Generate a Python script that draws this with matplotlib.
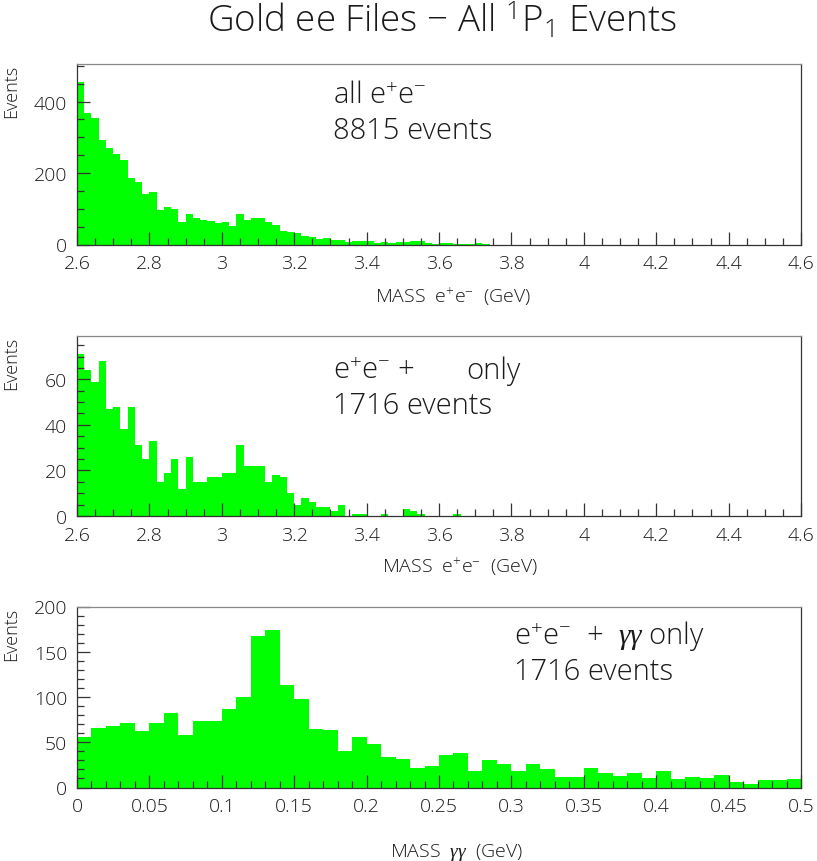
"""Gold ee files: e+e- and gamma-gamma mass histograms."""

import numpy as np
import matplotlib
matplotlib.use("Agg")
import matplotlib.pyplot as plt
from matplotlib.ticker import MultipleLocator, FormatStrFormatter

plt.rcParams["font.family"] = ["Open Sans", "DejaVu Sans"]
plt.rcParams["font.weight"] = "light"
plt.rcParams["mathtext.fontset"] = "custom"
plt.rcParams["mathtext.rm"] = "Open Sans:light"
plt.rcParams["mathtext.it"] = "Liberation Serif:italic"

GREEN = "#00ff00"
INK = "#333333"
LABEL = "#1a1a1a"

# all e+e-: 100 bins of 0.02 GeV from 2.6 to 4.6
ee_all_counts = [
    455, 367, 355, 293, 269, 254, 236, 186, 174, 141,
    146, 96, 105, 99, 63, 84, 73, 68, 67, 59,
    62, 52, 86, 69, 73, 74, 62, 55, 39, 34,
    31, 24, 20, 16, 19, 12, 12, 7, 10, 11,
    9, 3, 6, 5, 7, 8, 10, 9, 3, 2,
    4, 3, 2, 1, 1, 3, 1, 0, 0, 0,
] + [0] * 40

# e+e- + gamma only: 100 bins of 0.02 GeV
ee_sel_counts = [
    71, 64, 59, 68, 47, 48, 38, 48, 31, 25,
    33, 15, 19, 25, 12, 26, 15, 15, 17, 17,
    19, 19, 31, 22, 22, 22, 15, 18, 17, 10,
    5, 8, 6, 4, 4, 2, 5, 0, 1, 1,
    0, 0, 1, 0, 0, 3, 2, 1, 0, 0,
    0, 0, 1, 0, 0, 0, 0, 0, 0, 0,
] + [0] * 40

# gamma-gamma mass: 50 bins of 0.01 GeV from 0 to 0.5
gg_counts = [
    56, 66, 68, 71, 62, 71, 82, 58, 74, 73,
    87, 100, 167, 174, 113, 98, 65, 63, 40, 56,
    48, 34, 31, 22, 24, 36, 38, 18, 30, 26,
    18, 26, 20, 12, 12, 22, 16, 13, 16, 10,
    18, 9, 12, 10, 14, 6, 4, 8, 8, 9,
]

ee_edges = np.linspace(2.6, 4.6, len(ee_all_counts) + 1)
gg_edges = np.linspace(0.0, 0.5, len(gg_counts) + 1)

fig = plt.figure(figsize=(8.17, 8.62), dpi=100)

LEFT, WIDTH = 77 / 817, 724 / 817
panels = [
    (245.5, 180.5), (517.0, 180.0), (788.5, 181.0)
]


def make_axes(bottom_px, height_px):
    ax = fig.add_axes([LEFT, 1 - bottom_px / 862, WIDTH, height_px / 862])
    for side in ["left", "bottom", "right", "top"]:
        ax.spines[side].set_color(INK)
        ax.spines[side].set_linewidth(0.9)
    ax.spines["top"].set_color("#888888")
    ax.tick_params(which="both", direction="in", colors=INK, labelcolor=LABEL,
                   labelsize=14, top=False, right=False, width=0.9)
    ax.tick_params(which="major", length=9.5, pad=7)
    ax.tick_params(which="minor", length=4.8)
    return ax


def draw_hist(ax, edges, counts):
    ax.stairs(counts, edges, fill=True, color=GREEN, linewidth=0)


# panel 1
ax1 = make_axes(*panels[0])
draw_hist(ax1, ee_edges, ee_all_counts)
ax1.set_xlim(2.6, 4.6)
ax1.set_ylim(0, 505)
ax1.xaxis.set_major_locator(MultipleLocator(0.2))
ax1.xaxis.set_minor_locator(MultipleLocator(0.05))
ax1.yaxis.set_major_locator(MultipleLocator(200))
ax1.yaxis.set_minor_locator(MultipleLocator(50))
ax1.xaxis.set_major_formatter(FormatStrFormatter("%g"))
ax1.text(0.354, 0.788, "all e$^{+}$e$^{-}$", transform=ax1.transAxes, fontsize=21, color=LABEL)
ax1.text(0.354, 0.590, "8815 events", transform=ax1.transAxes, fontsize=21, color=LABEL)

# panel 2
ax2 = make_axes(*panels[1])
draw_hist(ax2, ee_edges, ee_sel_counts)
ax2.set_xlim(2.6, 4.6)
ax2.set_ylim(0, 79)
ax2.xaxis.set_major_locator(MultipleLocator(0.2))
ax2.xaxis.set_minor_locator(MultipleLocator(0.05))
ax2.yaxis.set_major_locator(MultipleLocator(20))
ax2.yaxis.set_minor_locator(MultipleLocator(5))
ax2.xaxis.set_major_formatter(FormatStrFormatter("%g"))
ax2.text(0.354, 0.765, "e$^{+}$e$^{-}$ +", transform=ax2.transAxes, fontsize=21, color=LABEL)
ax2.text(0.538, 0.765, "only", transform=ax2.transAxes, fontsize=21, color=LABEL)
ax2.text(0.354, 0.572, "1716 events", transform=ax2.transAxes, fontsize=21, color=LABEL)

# panel 3
ax3 = make_axes(*panels[2])
draw_hist(ax3, gg_edges, gg_counts)
ax3.set_xlim(0, 0.5)
ax3.set_ylim(0, 200)
ax3.xaxis.set_major_locator(MultipleLocator(0.05))
ax3.xaxis.set_minor_locator(MultipleLocator(0.01))
ax3.yaxis.set_major_locator(MultipleLocator(50))
ax3.yaxis.set_minor_locator(MultipleLocator(10))
ax3.xaxis.set_major_formatter(FormatStrFormatter("%g"))
ax3.text(0.603, 0.797, r"e$^{+}$e$^{-}$  +  $\gamma\gamma$ only", transform=ax3.transAxes,
         fontsize=21, color=LABEL)
ax3.text(0.603, 0.599, "1716 events", transform=ax3.transAxes, fontsize=21, color=LABEL)

for ax in (ax1, ax2, ax3):
    ax.text(-0.104, 1.0, "Events", transform=ax.transAxes, rotation=90,
            ha="left", va="top", fontsize=13, color=LABEL)

fig.text(375 / 817, 1 - 302.7 / 862, "MASS  e$^{+}$e$^{-}$  (GeV)", fontsize=14, color=LABEL)
fig.text(382 / 817, 1 - 573 / 862, "MASS  e$^{+}$e$^{-}$  (GeV)", fontsize=14, color=LABEL)
fig.text(390 / 817, 1 - 857 / 862, r"MASS  $\gamma\gamma$  (GeV)", fontsize=14, color=LABEL)

fig.text(442 / 817, 1 - 33 / 862, "Gold ee Files $-$ All $^{1}$P$_{1}$ Events",
         ha="center", fontsize=26.5, color=LABEL)

fig.savefig("out.png", dpi=100)
